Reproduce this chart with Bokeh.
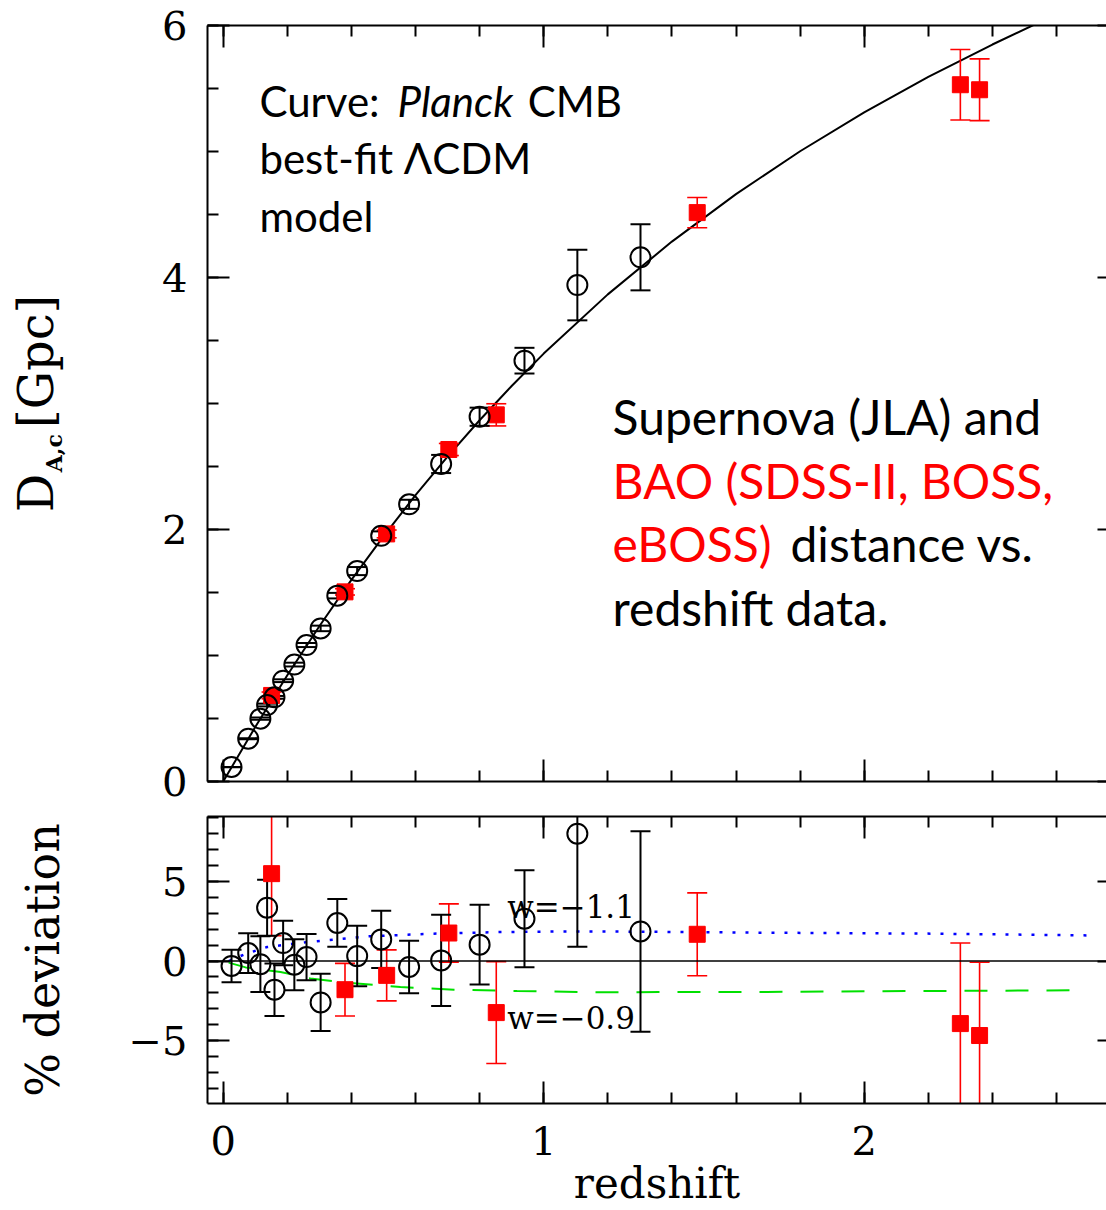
import math
from bokeh.plotting import figure
from bokeh.layouts import column
from bokeh.models import (FixedTicker, LinearAxis, Label, Span,
                          CustomJSTickFormatter, Range1d)
from bokeh.embed import file_html
from bokeh.resources import INLINE

# ---------------- data ----------------
# Planck best-fit LCDM curve: comoving angular diameter distance [Gpc]
model_z = [0.0, 0.1, 0.2, 0.3, 0.4, 0.5, 0.6, 0.7, 0.8, 0.9, 1.0, 1.2, 1.4,
           1.6, 1.8, 2.0, 2.2, 2.4, 2.6]
model_D = [0.0, 0.432, 0.843, 1.232, 1.600, 1.946, 2.272, 2.578, 2.867,
           3.139, 3.396, 3.866, 4.285, 4.662, 5.002, 5.310, 5.592, 5.849, 6.09]

# Supernova (JLA) binned points
sn_z = [0.026, 0.078, 0.116, 0.137, 0.160, 0.187, 0.222, 0.260, 0.304, 0.356,
        0.418, 0.493, 0.580, 0.680, 0.800, 0.940, 1.105, 1.302]
sn_D = [0.115, 0.340, 0.499, 0.607, 0.668, 0.800, 0.928, 1.083, 1.215, 1.475,
        1.670, 1.950, 2.200, 2.520, 2.895, 3.340, 3.940, 4.160]
sn_D_err = [0.001, 0.004, 0.009, 0.011, 0.011, 0.011, 0.015, 0.016, 0.022,
            0.022, 0.032, 0.035, 0.036, 0.072, 0.072, 0.102, 0.280, 0.262]
sn_dev = [-0.31, 0.50, -0.20, 3.35, -1.80, 1.13, -0.23, 0.25, -2.60, 2.39,
          0.31, 1.36, -0.37, 0.04, 1.03, 2.66, 8.00, 1.86]
sn_dev_err = [1.02, 1.25, 1.75, 1.76, 1.65, 1.40, 1.60, 1.45, 1.80, 1.50,
              1.90, 1.80, 1.65, 2.86, 2.50, 3.05, 7.10, 6.30]

# BAO (SDSS-II, BOSS, eBOSS)
bao_z = [0.151, 0.380, 0.510, 0.704, 0.852, 1.479, 2.300, 2.360]
bao_D = [0.683, 1.505, 1.965, 2.635, 2.910, 4.515, 5.530, 5.490]
bao_D_err = [0.027, 0.025, 0.031, 0.048, 0.088, 0.120, 0.280, 0.245]
bao_dev = [5.49, -1.80, -0.90, 1.76, -3.24, 1.68, -3.93, -4.68]
bao_dev_err = [3.90, 1.65, 1.60, 1.83, 3.20, 2.60, 5.06, 4.60]

# alternative dark-energy models, % deviation from LCDM
w11_z = [0.017, 0.070, 0.137, 0.262, 0.449, 0.657, 0.865, 1.073, 1.177,
         1.697, 2.217, 2.696]
w11_dev = [0.0, 0.45, 0.88, 1.19, 1.55, 1.72, 1.82, 1.86, 1.86, 1.78, 1.72,
           1.61]
w09_z = [0.017, 0.070, 0.179, 0.272, 0.397, 0.553, 0.720, 0.917, 1.177,
         1.697, 2.217, 2.650]
w09_dev = [-0.10, -0.40, -0.69, -1.10, -1.38, -1.63, -1.80, -1.88, -1.96,
           -1.94, -1.88, -1.84]

x_major = [0, 1, 2]
x_minor = [round(0.2 * i, 1) for i in range(0, 15)]
top_y_major = [0, 2, 4, 6]
top_y_minor = [0.5 * i for i in range(0, 13)]
bot_y_major = [-5, 0, 5]
bot_y_minor = list(range(-9, 10))

NBSP = "\u00a0"

# ---------------- styling helpers ----------------
SERIF = "DejaVu Serif"
SANS = "Lato"
X0, X1 = -0.049, 2.756
EMPTY = CustomJSTickFormatter(code="return '';")


def style_axis(ax, major_in=22, minor_in=11, line=True):
    ax.major_tick_in = major_in
    ax.major_tick_out = 0
    ax.minor_tick_in = minor_in
    ax.minor_tick_out = 0
    ax.major_tick_line_width = 2
    ax.minor_tick_line_width = 2
    ax.major_tick_line_color = "black" if major_in > 0 else None
    ax.minor_tick_line_color = "black" if minor_in > 0 else None
    ax.axis_line_width = 2
    ax.axis_line_color = "black" if line else None
    ax.major_label_text_font = SERIF
    ax.major_label_text_font_size = "40px"
    ax.major_label_text_color = "black"
    ax.axis_label_text_font = SERIF
    ax.axis_label_text_font_style = "normal"
    ax.axis_label_text_color = "black"


def blank_axis(ax):
    ax.formatter = EMPTY
    ax.major_label_standoff = 0
    ax.major_label_text_font_size = "0px"


def error_bars(p, xs, ys, errs, color, width, cap=20):
    lo = [y - e for y, e in zip(ys, errs)]
    hi = [y + e for y, e in zip(ys, errs)]
    p.segment(x0=xs, y0=lo, x1=xs, y1=hi, line_color=color, line_width=width)
    p.scatter(x=xs, y=lo, marker="dash", size=cap, line_color=color,
              line_width=width)
    p.scatter(x=xs, y=hi, marker="dash", size=cap, line_color=color,
              line_width=width)


def make_fig(height, y_range, border_top, border_bottom):
    p = figure(width=1106, height=height, output_backend="svg",
               toolbar_location=None, x_range=Range1d(X0, X1),
               y_range=Range1d(*y_range), min_border_left=207,
               min_border_right=0, min_border_top=border_top,
               min_border_bottom=border_bottom)
    p.outline_line_color = None
    p.xgrid.visible = False
    p.ygrid.visible = False
    p.background_fill_color = "white"
    p.border_fill_color = "white"
    return p


# ---------------- top panel ----------------
p1 = make_fig(806, (0, 6), 25, 25)
p1.xaxis.ticker = FixedTicker(ticks=x_major, minor_ticks=x_minor)
p1.yaxis.ticker = FixedTicker(ticks=top_y_major, minor_ticks=top_y_minor)
style_axis(p1.xaxis[0])
blank_axis(p1.xaxis[0])
style_axis(p1.yaxis[0])
p1.yaxis[0].major_label_standoff = 20
# y-axis title  D_{A,c} [Gpc]: subscript on the inner axis, main text outside
p1.yaxis[0].axis_label = "A,c" + NBSP * 13
p1.yaxis[0].axis_label_text_font_size = "22px"
p1.yaxis[0].axis_label_text_font_style = "bold"
p1.yaxis[0].axis_label_standoff = 92
ylab_ax = LinearAxis(ticker=FixedTicker(ticks=[], minor_ticks=[]))
style_axis(ylab_ax, major_in=0, minor_in=0, line=False)
blank_axis(ylab_ax)
ylab_ax.axis_label = "D" + NBSP * 3 + "[Gpc]"
ylab_ax.axis_label_text_font_size = "48px"
ylab_ax.axis_label_standoff = -25
p1.add_layout(ylab_ax, "left")

top_ax = LinearAxis(ticker=FixedTicker(ticks=x_major, minor_ticks=x_minor))
style_axis(top_ax)
blank_axis(top_ax)
p1.add_layout(top_ax, "above")
right_ax1 = LinearAxis(ticker=FixedTicker(ticks=top_y_major, minor_ticks=[]))
style_axis(right_ax1, major_in=9, minor_in=0, line=False)
blank_axis(right_ax1)
p1.add_layout(right_ax1, "right")

p1.line(model_z, model_D, line_color="black", line_width=2)
error_bars(p1, bao_z, bao_D, bao_D_err, "red", 1.6)
error_bars(p1, sn_z, sn_D, sn_D_err, "black", 2)
p1.scatter(bao_z, bao_D, marker="square", size=16, fill_color="red",
           line_color="red")
p1.scatter(sn_z, sn_D, marker="circle", size=20, fill_color=None,
           line_color="black", line_width=2)


def note(p, x, y, text, color="black", size="42px", style="normal"):
    p.add_layout(Label(x=x, y=y, text=text, text_font=SANS,
                       text_font_size=size, text_font_style=style,
                       text_color=color, text_baseline="alphabetic",
                       text_align="left"))


note(p1, 0.113, 5.397, "Curve:")
note(p1, 0.544, 5.397, "Planck", style="italic")
note(p1, 0.950, 5.397, "CMB")
note(p1, 0.113, 4.945, "best-fit ΛCDM")
note(p1, 0.113, 4.492, "model")
note(p1, 1.215, 2.900, "Supernova (JLA) and", size="48px")
note(p1, 1.215, 2.390, "BAO (SDSS-II, BOSS,", color="red", size="48px")
note(p1, 1.215, 1.887, "eBOSS)", color="red", size="48px")
note(p1, 1.770, 1.887, "distance vs.", size="48px")
note(p1, 1.215, 1.379, "redshift data.", size="48px")

# ---------------- bottom panel ----------------
p2 = make_fig(404, (-8.95, 9.08), 10, 107)
p2.xaxis.ticker = FixedTicker(ticks=x_major, minor_ticks=x_minor)
p2.yaxis.ticker = FixedTicker(ticks=bot_y_major, minor_ticks=bot_y_minor)
style_axis(p2.xaxis[0])
style_axis(p2.yaxis[0])
p2.xaxis[0].major_label_standoff = 22
p2.xaxis[0].axis_label = "redshift"
p2.xaxis[0].axis_label_text_font_size = "42px"
p2.xaxis[0].axis_label_standoff = 1
p2.yaxis[0].major_label_standoff = 20
p2.yaxis[0].formatter = CustomJSTickFormatter(
    code="return tick < 0 ? '\\u2212' + Math.abs(tick) : '' + tick;")
p2.yaxis[0].axis_label = "% deviation"
p2.yaxis[0].axis_label_text_font_size = "46px"
p2.yaxis[0].axis_label_standoff = 56
top_ax2 = LinearAxis(ticker=FixedTicker(ticks=x_major, minor_ticks=x_minor))
style_axis(top_ax2)
blank_axis(top_ax2)
p2.add_layout(top_ax2, "above")
right_ax2 = LinearAxis(ticker=FixedTicker(ticks=bot_y_major, minor_ticks=[]))
style_axis(right_ax2, major_in=9, minor_in=0, line=False)
blank_axis(right_ax2)
p2.add_layout(right_ax2, "right")

p2.add_layout(Span(location=0, dimension="width", line_color="black",
                   line_width=1.5))
p2.line(w11_z, w11_dev, line_color="#0000ff", line_width=2.5,
        line_dash="3 10")
p2.line(w09_z, w09_dev, line_color="#00e000", line_width=2,
        line_dash="23 18")
error_bars(p2, bao_z, bao_dev, bao_dev_err, "red", 1.6)
error_bars(p2, sn_z, sn_dev, sn_dev_err, "black", 2)
p2.scatter(bao_z, bao_dev, marker="square", size=16, fill_color="red",
           line_color="red")
p2.scatter(sn_z, sn_dev, marker="circle", size=20, fill_color=None,
           line_color="black", line_width=2)

for ytxt, txt in [(3.37, "w=−1.1"), (-3.60, "w=−0.9")]:
    p2.add_layout(Label(x=0.886, y=ytxt, text=txt, text_font=SERIF,
                        text_font_size="31px", text_color="black",
                        text_baseline="alphabetic", text_align="left"))

layout = column(p1, p2, spacing=0)
open("out.html", "w").write(file_html(layout, INLINE))
